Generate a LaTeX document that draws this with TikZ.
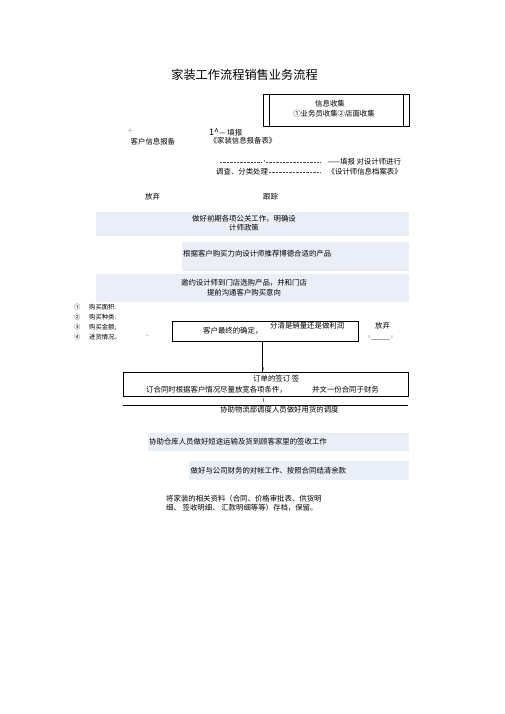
\documentclass[tikz,border=0pt]{standalone}
\usepackage{fontspec}
\setmainfont{Noto Sans CJK SC}
\definecolor{bandfill}{RGB}{234,238,247}
\tikzset{
  txt/.style={font=\fontsize{7.4}{9.5}\selectfont, inner sep=0pt, anchor=west},
  faint/.style={txt, text=gray!70},
  band/.style={fill=bandfill, draw=none, inner sep=0pt},
  frame/.style={draw, line width=0.9pt, inner sep=0pt},
  dashrule/.style={black!70, line width=0.35pt, dash pattern=on 2.4pt off 1pt},
}
\begin{document}
\begin{tikzpicture}[x=1pt,y=-1pt]
    \useasboundingbox (0,0) rectangle (505,714);

    % Title
    \node[font=\fontsize{12.2}{14}\selectfont, inner sep=0pt] (title) at (244.5,75) {家装工作流程销售业务流程};

    % Information collection (box with double sides)
    \node[frame, minimum width=146pt, minimum height=32pt] (collect) at (336,110) {};
    \draw[line width=0.9pt] ([xshift=7pt]collect.north west) -- ([xshift=7pt]collect.south west);
    \draw[line width=0.9pt] ([xshift=-6pt]collect.north east) -- ([xshift=-6pt]collect.south east);
    \node[txt, anchor=center] (collecthead) at (330,104) {信息收集};
    \node[txt, anchor=center] (collectways) at (334,113.5) {①业务员收集②店面收集};

    % Customer report
    \node[faint, font=\fontsize{9.5}{10}\selectfont, text=gray!55] (plus) at (127.5,132) {+};
    \node[txt] (report) at (130.5,141.7) {客户信息报备};
    \node[txt] (fillin) at (209,132) {{\fontsize{9}{10}\selectfont 1\textasciicircum}— 填报};
    \node[txt] (reportform) at (209.5,140.7) {《家装信息报备表》};

    % Survey of designers
    \coordinate (dashA) at (220,162);
    \coordinate (dashB) at (262,162);
    \coordinate (dashC) at (266,162);
    \coordinate (dashD) at (321,162);
    \draw[dashrule] (dashA) -- (dashB);
    \draw[gray, line width=0.3pt] (264,160.5) -- (264,162);
    \draw[dashrule] (dashC) -- (dashD);
    \node[txt] (survey) at (327.5,161.7) {——填报 对设计师进行};
    \node[txt] (classify) at (216,171.7) {调查、分类处理};
    \coordinate (dashE) at (269,172);
    \coordinate (dashF) at (321,172);
    \draw[dashrule] (dashE) -- (dashF);
    \node[txt] (archive) at (327.5,171.7) {《设计师信息档案表》};

    % Give up / follow up
    \node[txt] (giveup) at (145,197) {放弃};
    \node[txt] (follow) at (263,197) {跟踪};

    % Shaded steps
    \node[band, minimum width=313pt, minimum height=24pt] (pr) at (252.5,224) {};
    \node[txt, anchor=center, align=center] (prtext) at (244,223) {做好前期各项公关工作，明确设\\计师政策};
    \node[band, minimum width=227pt, minimum height=29pt] (recommend) at (295.5,256.5) {};
    \node[txt] (recommendtext) at (183,253.5) {根据客户购买力向设计师推荐博德合适的产品};
    \node[band, minimum width=313pt, minimum height=28pt] (invite) at (252.5,288) {};
    \node[txt, anchor=center, align=center] (invitetext) at (244,287.5) {邀约设计师到门店选购产品，并和门店\\提前沟通客户购买意向};

    % Purchase details
    \foreach \num/\item/\y in {①/购买面积:/307, ②/购买种类:/317, ③/购买金额;/327, ④/进货情况。/337}{
        \node[txt, font=\fontsize{6.3}{8}\selectfont] at (74,\y) {\num};
        \node[txt, font=\fontsize{6.3}{8}\selectfont] at (89,\y) {\item};
    }
    \node[faint] (tilde) at (145,337) {\textasciitilde};

    % Final confirmation
    \node[frame, minimum width=186pt, minimum height=20pt] (confirm) at (265,331) {};
    \node[txt] (confirmtext) at (203,330.5) {客户最终的确定，};
    \node[txt] (margin) at (270,326) {分清是销量还是做利润};
    \node[txt] (giveup2) at (375,326) {放弃};
    \node[faint, font=\fontsize{5}{6}\selectfont] (xy) at (368,338) {x\rule[-0.3pt]{19pt}{0.3pt}\,y};

    % Order signing
    \node[frame, minimum width=285pt, minimum height=24pt] (order) at (265.5,384) {};
    \node[txt] (orderhead) at (253,379) {订单的签订\ 签};
    \node[txt] (ordercond) at (146,389.3) {订合同时根据客户情况尽量放宽各项条件，};
    \node[txt] (orderfin) at (312,389.3) {并文一份合同于财务};
    \draw[line width=0.9pt] ([xshift=-2.5pt]confirm.south) -- ([xshift=-2.5pt]confirm.south |- order.north);
    \draw[gray, line width=0.3pt] (263,367) -- (263,370);
    \draw[gray, line width=0.3pt] (263,398) -- (263,402);

    % Logistics
    \coordinate (ruleL) at (123,405);
    \coordinate (ruleR) at (408,405);
    \draw[line width=0.9pt] (ruleL) -- (ruleR);
    \node[txt] (logistics) at (220,410) {协助物流部调度人员做好用货的调度};

    \node[band, minimum width=261pt, minimum height=18pt] (delivery) at (278.5,442) {};
    \node[txt] (deliverytext) at (149,441.7) {协助仓库人员做好短途运输及货到顾客家里的签收工作};
    \node[band, minimum width=220pt, minimum height=19pt] (settle) at (299,470.5) {};
    \node[txt] (settletext) at (190.5,470.7) {做好与公司财务的对帐工作、按照合同结清余款};

    % Archiving
    \node[txt, align=left] (archiving) at (166,503) {将家装的相关资料（合同、价格审批表、供货明\\细、\ 签收明细、\ 汇款明细等等）存档，保留。};
\end{tikzpicture}
\end{document}
